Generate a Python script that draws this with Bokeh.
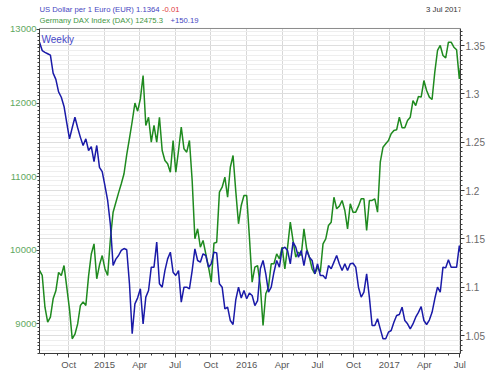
import pandas as pd
from bokeh.plotting import figure
from bokeh.models import (Range1d, LinearAxis, FixedTicker, SingleIntervalTicker,
                          NumeralTickFormatter, Grid, Label, Span, ColumnDataSource)
from bokeh.embed import file_html
from bokeh.resources import INLINE

# ---- data (weekly closes) ----
first_week = "2014-07-18"
last_date = "2017-07-03"
x_start = "2014-07-18"
x_end = "2017-07-03"

dax = [9726, 9658, 9227, 9023, 9091, 9341, 9450, 9700, 9658, 9793,
       9500, 9200, 8798, 8860, 9000, 9250, 9300, 9250, 9650, 9950,
       10088, 9613, 9800, 9929, 9750, 9658, 10150, 10518, 10650, 10780,
       10904, 11040, 11300, 11520, 11750, 12000, 11890, 12058, 12375, 11696,
       11808, 11469, 11696, 11469, 11808, 11356, 11220, 11175, 11061, 11492,
       11061, 11356, 11673, 11379, 11333, 11492, 10948, 10156, 10292, 10042,
       10133, 9952, 9770, 9567, 10097, 10110, 10790, 10857, 10993, 10721,
       11129, 11288, 10800, 10360, 10609, 10745, 10745, 10178, 9567, 9770,
       9793, 9522, 8978, 9409, 9499, 9817, 9817, 9952, 9884, 10042,
       9749, 10042, 10382, 10133, 9906, 9975, 9929, 10292, 10020, 9906,
       9749, 9681, 9770, 9702, 10088, 10156, 10337, 10382, 10721, 10564,
       10600, 10677, 10541, 10292, 10632, 10518, 10518, 10600, 10700, 10700,
       10269, 10677, 10677, 10700, 10518, 11197, 11401, 11447, 11492, 11583,
       11628, 11637, 11808, 11664, 11664, 11764, 11808, 12035, 11967, 12090,
       12081, 12307, 12171, 12081, 12049, 12420, 12715, 12783, 12647, 12615,
       12827, 12827, 12760, 12724, 12330, 12475.3]

eur = [1.3534, 1.3448, 1.3430, 1.3415, 1.3400, 1.3215, 1.3150, 1.3020, 1.2965, 1.2870,
       1.2700, 1.2535, 1.2650, 1.2758, 1.2650, 1.2550, 1.2466, 1.2535, 1.2414, 1.2455,
       1.2300, 1.2466, 1.2240, 1.2195, 1.2050, 1.1897, 1.1650, 1.1224, 1.1290, 1.1328,
       1.1380, 1.1400, 1.1387, 1.1035, 1.0518, 1.0828, 1.0890, 1.0983, 1.0621, 1.0897,
       1.0966, 1.1207, 1.1207, 1.1466, 1.1035, 1.1000, 1.1172, 1.1293, 1.1362, 1.1155,
       1.1121, 1.1172, 1.0845, 1.1000, 1.1000, 1.0983, 1.1172, 1.1397, 1.1276, 1.1259,
       1.1345, 1.1328, 1.1207, 1.1242, 1.1362, 1.1355, 1.1035, 1.1000, 1.0776, 1.0793,
       1.0655, 1.0614, 1.0870, 1.1000, 1.0888, 1.0966, 1.0880, 1.0938, 1.0914, 1.0810,
       1.0862, 1.1190, 1.1276, 1.1138, 1.0948, 1.1000, 1.1155, 1.1276, 1.1207, 1.1397,
       1.1414, 1.1379, 1.1242, 1.1466, 1.1414, 1.1310, 1.1379, 1.1224, 1.1379, 1.1310,
       1.1276, 1.1138, 1.1242, 1.1121, 1.1121, 1.1086, 1.1224, 1.1190, 1.1259, 1.1328,
       1.1240, 1.1172, 1.1242, 1.1172, 1.1242, 1.1248, 1.1207, 1.1000, 1.0897, 1.0948,
       1.1138, 1.0897, 1.0604, 1.0604, 1.0673, 1.0569, 1.0466, 1.0466, 1.0534, 1.0552,
       1.0638, 1.0707, 1.0717, 1.0793, 1.0655, 1.0621, 1.0569, 1.0620, 1.0690, 1.0740,
       1.0800, 1.0655, 1.0614, 1.0660, 1.0740, 1.0880, 1.1000, 1.0948, 1.1207, 1.1200,
       1.1283, 1.1207, 1.1207, 1.1207, 1.1431, 1.1364]

tick_dates = ["2014-10-01", "2015-01-01", "2015-04-01", "2015-07-01", "2015-10-01",
              "2016-01-01", "2016-04-01", "2016-07-01", "2016-10-01", "2017-01-01",
              "2017-04-01", "2017-07-01"]
tick_labels = ["Oct", "2015", "Apr", "Jul", "Oct", "2016", "Apr", "Jul", "Oct", "2017",
               "Apr", "Jul"]

eur_title = "US Dollar per 1 Euro (EUR) 1.1364"
eur_change = "-0.01"
dax_title = "Germany DAX Index (DAX) 12475.3"
dax_change = "+150.19"
date_text = "3 Jul 2017"
period_text = "Weekly"

# ---- build ----
dates = list(pd.date_range(first_week, periods=len(dax) - 1, freq="7D")) + [pd.Timestamp(last_date)]
src = ColumnDataSource(dict(date=dates, dax=dax, eur=eur))

FONT = "Liberation Sans"
DAX_LO, DAX_TOP, DAX_HI = 8598, 13014, 13394      # DAX_TOP = top edge of the plotting box
EUR_LO, EUR_TOP, EUR_HI = 1.0314, 1.3676, 1.3966

# the frame spans the whole canvas height above the date axis; the header lives in its top strip
p = figure(width=501, height=377, x_axis_type="datetime", output_backend="svg",
           toolbar_location=None,
           x_range=Range1d(pd.Timestamp(x_start), pd.Timestamp(x_end)),
           y_range=Range1d(DAX_LO, DAX_HI),
           min_border_left=39, min_border_right=41, min_border_top=0, min_border_bottom=24)
p.extra_y_ranges = {"eur": Range1d(EUR_LO, EUR_HI)}
p.background_fill_color = "white"
p.border_fill_color = "white"
p.outline_line_color = None

AX = "#3a3a3a"

def ms(d):
    return float(pd.Timestamp(d).value // 10**6)

tick_ms = [ms(d) for d in tick_dates]
minor_ms = [ms(d) for d in pd.date_range("2014-08-01", "2017-07-01", freq="MS")]
xa = p.xaxis[0]
xa.ticker = FixedTicker(ticks=tick_ms, minor_ticks=minor_ms)
xa.major_label_overrides = {t: l for t, l in zip(tick_ms, tick_labels)}
xa.axis_line_color = AX
xa.major_tick_line_color = AX
xa.minor_tick_line_color = AX
xa.major_tick_out = 4
xa.major_tick_in = 0
xa.minor_tick_out = 2
xa.minor_tick_in = 0
xa.major_label_standoff = 1
xa.major_label_text_font = FONT
xa.major_label_text_font_size = "9.5px"
xa.major_label_text_color = "#555555"

ya = p.yaxis[0]
ya.ticker = SingleIntervalTicker(interval=1000, num_minor_ticks=20)
ya.bounds = (DAX_LO, DAX_TOP)
ya.axis_line_color = AX
ya.major_tick_line_color = AX
ya.minor_tick_line_color = AX
ya.major_tick_out = 3
ya.major_tick_in = 0
ya.minor_tick_out = 2
ya.minor_tick_in = 0
ya.major_label_standoff = 0
ya.major_label_text_font = FONT
ya.major_label_text_font_size = "9.5px"
ya.major_label_text_color = "#5fa85f"

ra = LinearAxis(y_range_name="eur",
                ticker=SingleIntervalTicker(interval=0.05, num_minor_ticks=10),
                formatter=NumeralTickFormatter(format="0.[00]"),
                bounds=(EUR_LO, EUR_TOP))
ra.axis_line_color = AX
ra.major_tick_line_color = AX
ra.minor_tick_line_color = AX
ra.major_tick_out = 4
ra.major_tick_in = 0
ra.minor_tick_out = 2
ra.minor_tick_in = 0
ra.major_label_standoff = 1
ra.major_label_text_font = FONT
ra.major_label_text_font_size = "10px"
ra.major_label_text_color = "#6a6a6a"
p.add_layout(ra, "right")

p.xgrid.grid_line_color = "#d8d8d8"
p.xgrid.cross_bounds = (DAX_LO, DAX_TOP)
p.ygrid.visible = False
hg = Grid(dimension=1, y_range_name="eur", bounds=(EUR_LO, EUR_TOP - 0.001),
          ticker=SingleIntervalTicker(interval=0.05, num_minor_ticks=10),
          grid_line_color="#dedede", minor_grid_line_color="#eeeeee")
p.add_layout(hg)

# top edge of the plotting box
p.add_layout(Span(location=DAX_TOP, dimension="width", line_color="#8a8a8a", line_width=1))

p.line(x="date", y="dax", source=src, line_color="#1f8a1f", line_width=1.5)
p.line(x="date", y="eur", source=src, y_range_name="eur", line_color="#1a1aa8", line_width=1.5)

FH = 353  # frame height (px), measured up from the date axis

def lab(text, x, y, color, size="7.7px", align="left"):
    p.add_layout(Label(x=x, y=y, x_units="screen", y_units="screen", text=text,
                       text_font=FONT, text_font_size=size, text_color=color,
                       text_align=align, text_baseline="alphabetic"))

lab(eur_title, 0, FH - 8.5, "#4646c0")
lab(eur_change, 122.5, FH - 8.5, "#e03a3a")
lab(dax_title, 0, FH - 20, "#3f963f")
lab(dax_change, 131, FH - 20, "#4646c0")
lab(date_text, 422.5, FH - 8.5, "#333333", size="7.8px", align="right")
lab(period_text, 2, FH - 38.5, "#4646c8", size="10px")

open("out.html", "w").write(file_html(p, INLINE))
